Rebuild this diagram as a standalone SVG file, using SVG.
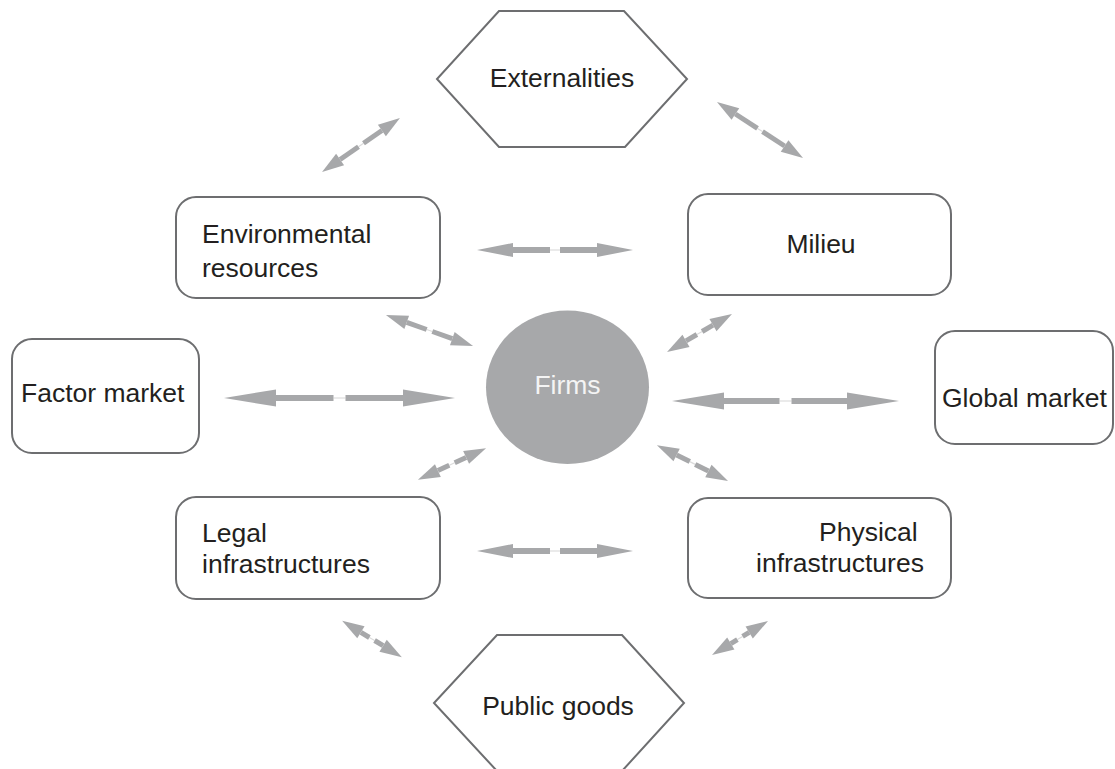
<svg xmlns="http://www.w3.org/2000/svg" width="1115" height="769" viewBox="0 0 1115 769">
<style>
.box{fill:#ffffff;stroke:#6d6e70;stroke-width:2}
.lbl{font-family:"Liberation Sans",Arial,sans-serif;font-size:26.5px;fill:#231f20}
.shaft{stroke:#a7a8aa;stroke-width:6;fill:none}
.thin{stroke:#a7a8aa;stroke-width:5;fill:none}
.gap{stroke:#dcdcdc;stroke-width:1.2}
</style>
<defs>
<marker id="hL" markerUnits="userSpaceOnUse" orient="auto" refX="0" refY="0" markerWidth="60" markerHeight="20" overflow="visible"><path d="M0,-8.5 L52,0 L0,8.5 z" fill="#a7a8aa"/></marker>
<marker id="hM" markerUnits="userSpaceOnUse" orient="auto" refX="0" refY="0" markerWidth="40" markerHeight="16" overflow="visible"><path d="M0,-7 L36,0 L0,7 z" fill="#a7a8aa"/></marker>
<marker id="hS" markerUnits="userSpaceOnUse" orient="auto" refX="0" refY="0" markerWidth="25" markerHeight="16" overflow="visible"><path d="M0,-7 L22,0 L0,7 z" fill="#a7a8aa"/></marker>
</defs>
<rect width="1115" height="769" fill="#ffffff"/>

<g id="connectors">
  <!-- Externalities - Environmental -->
  <line class="gap" x1="358.5" y1="146.7" x2="363.5" y2="143.3"/>
  <line class="thin" x1="358.5" y1="146.7" x2="340.1" y2="159.5" marker-end="url(#hS)"/>
  <line class="thin" x1="363.5" y1="143.3" x2="381.9" y2="130.5" marker-end="url(#hS)"/>
  <!-- Externalities - Milieu -->
  <line class="gap" x1="757.5" y1="128.4" x2="762.5" y2="131.6"/>
  <line class="thin" x1="757.5" y1="128.4" x2="735.4" y2="114.0" marker-end="url(#hS)"/>
  <line class="thin" x1="762.5" y1="131.6" x2="784.6" y2="146.0" marker-end="url(#hS)"/>
  <!-- Environmental - Milieu -->
  <line class="gap" x1="550" y1="250" x2="560" y2="250"/>
  <line class="shaft" x1="550" y1="250" x2="513" y2="250" marker-end="url(#hM)"/>
  <line class="shaft" x1="560" y1="250" x2="597" y2="250" marker-end="url(#hM)"/>
  <!-- Environmental - Firms -->
  <line class="gap" x1="426.7" y1="329.5" x2="432.3" y2="331.5"/>
  <line class="thin" x1="426.7" y1="329.5" x2="406.7" y2="322.4" marker-end="url(#hS)"/>
  <line class="thin" x1="432.3" y1="331.5" x2="452.3" y2="338.6" marker-end="url(#hS)"/>
  <!-- Milieu - Firms -->
  <line class="gap" x1="702.1" y1="331.5" x2="696.9" y2="334.5"/>
  <line class="thin" x1="702.1" y1="331.5" x2="713.0" y2="325.1" marker-end="url(#hS)"/>
  <line class="thin" x1="696.9" y1="334.5" x2="686.0" y2="340.9" marker-end="url(#hS)"/>
  <!-- Factor market - Firms -->
  <line class="gap" x1="333.5" y1="398" x2="345.5" y2="398"/>
  <line class="shaft" x1="333.5" y1="398" x2="276" y2="398" marker-end="url(#hL)"/>
  <line class="shaft" x1="345.5" y1="398" x2="403" y2="398" marker-end="url(#hL)"/>
  <!-- Firms - Global market -->
  <line class="gap" x1="779.5" y1="401" x2="791.5" y2="401"/>
  <line class="shaft" x1="779.5" y1="401" x2="724" y2="401" marker-end="url(#hL)"/>
  <line class="shaft" x1="791.5" y1="401" x2="847" y2="401" marker-end="url(#hL)"/>
  <!-- Legal - Firms -->
  <line class="gap" x1="449.3" y1="465.3" x2="454.7" y2="462.7"/>
  <line class="thin" x1="449.3" y1="465.3" x2="437.9" y2="470.6" marker-end="url(#hS)"/>
  <line class="thin" x1="454.7" y1="462.7" x2="466.1" y2="457.4" marker-end="url(#hS)"/>
  <!-- Physical - Firms -->
  <line class="gap" x1="689.8" y1="461.6" x2="695.2" y2="464.4"/>
  <line class="thin" x1="689.8" y1="461.6" x2="676.6" y2="455.0" marker-end="url(#hS)"/>
  <line class="thin" x1="695.2" y1="464.4" x2="708.4" y2="471.1" marker-end="url(#hS)"/>
  <!-- Legal - Physical -->
  <line class="gap" x1="550" y1="551" x2="560" y2="551"/>
  <line class="shaft" x1="550" y1="551" x2="513" y2="551" marker-end="url(#hM)"/>
  <line class="shaft" x1="560" y1="551" x2="597" y2="551" marker-end="url(#hM)"/>
  <!-- Legal - Public goods -->
  <line class="gap" x1="369.4" y1="637.5" x2="374.6" y2="640.5"/>
  <line class="thin" x1="369.4" y1="637.5" x2="360.9" y2="632.3" marker-end="url(#hS)"/>
  <line class="thin" x1="374.6" y1="640.5" x2="383.1" y2="645.7" marker-end="url(#hS)"/>
  <!-- Physical - Public goods -->
  <line class="gap" x1="737.4" y1="639.6" x2="742.6" y2="636.4"/>
  <line class="thin" x1="737.4" y1="639.6" x2="730.8" y2="643.6" marker-end="url(#hS)"/>
  <line class="thin" x1="742.6" y1="636.4" x2="749.2" y2="632.4" marker-end="url(#hS)"/>
</g>

<g id="externalities">
  <polygon class="box" points="499,11 624,11 687,79 625,147 499,147 437,79"/>
  <text class="lbl" x="562" y="87" text-anchor="middle">Externalities</text>
</g>
<g id="environmental">
  <rect class="box" x="176" y="197" width="264" height="101" rx="20"/>
  <text class="lbl" x="202" y="243">Environmental</text>
  <text class="lbl" x="202" y="277">resources</text>
</g>
<g id="milieu">
  <rect class="box" x="688" y="194" width="263" height="101" rx="20"/>
  <text class="lbl" x="821" y="253" text-anchor="middle">Milieu</text>
</g>
<g id="factor-market">
  <rect class="box" x="12" y="339" width="187" height="114" rx="20"/>
  <text class="lbl" x="21" y="402">Factor market</text>
</g>
<g id="firms">
  <ellipse cx="567.5" cy="387.3" rx="81.5" ry="76.7" fill="#a7a8aa"/>
  <text class="lbl" x="567.5" y="394" text-anchor="middle" style="fill:#f4f4f4">Firms</text>
</g>
<g id="global-market">
  <rect class="box" x="935" y="331" width="178" height="113" rx="20"/>
  <text class="lbl" x="942" y="407">Global market</text>
</g>
<g id="legal">
  <rect class="box" x="176" y="497" width="264" height="102" rx="20"/>
  <text class="lbl" x="202" y="542">Legal</text>
  <text class="lbl" x="202" y="573">infrastructures</text>
</g>
<g id="physical">
  <rect class="box" x="688" y="498" width="263" height="100" rx="20"/>
  <text class="lbl" x="819" y="541">Physical</text>
  <text class="lbl" x="756" y="572">infrastructures</text>
</g>
<g id="public-goods">
  <polygon class="box" points="497,635 622,635 684,703 622,771 497,771 434,703"/>
  <text class="lbl" x="558" y="715" text-anchor="middle">Public goods</text>
</g>
</svg>
